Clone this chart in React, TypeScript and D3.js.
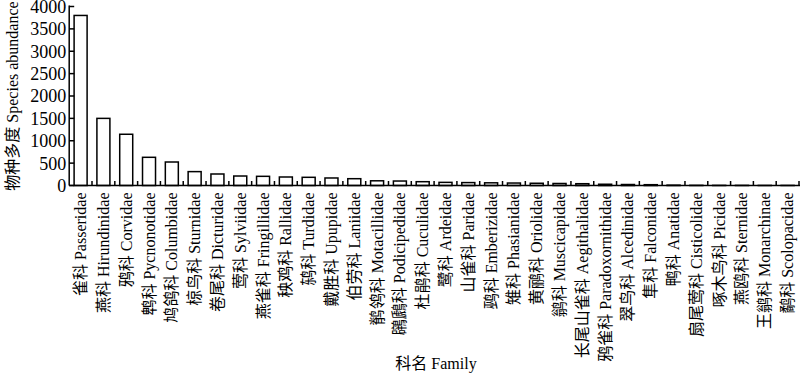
import React from "react";
import * as d3 from "d3";

const categories = [
  "雀科 Passeridae", "燕科 Hirundinidae", "鸦科 Corvidae", "鹎科 Pycnonotidae",
  "鸠鸽科 Columbidae", "椋鸟科 Sturnidae", "卷尾科 Dicturidae", "莺科 Sylviidae",
  "燕雀科 Fringillidae", "秧鸡科 Rallidae", "鸫科 Turdidae", "戴胜科 Upupidae",
  "伯劳科 Laniidae", "鹡鸰科 Motacillidae", "鸊鷉科 Podicipedidae", "杜鹃科 Cuculidae",
  "鹭科 Ardeidae", "山雀科 Paridae", "鹀科 Emberizidae", "雉科 Phasianidae",
  "黄鹂科 Oriolidae", "鹟科 Muscicapidae", "长尾山雀科 Aegithalidae", "鸦雀科 Paradoxornithidae",
  "翠鸟科 Alcedinidae", "隼科 Falconidae", "鸭科 Anatidae", "扇尾莺科 Cisticolidae",
  "啄木鸟科 Picidae", "燕鸥科 Sternidae", "王鹟科 Monarchinae", "鹬科 Scolopacidae",
];
const values = [
  3800, 1500, 1145, 630, 525, 310, 257, 212, 205, 190, 183, 168, 152, 105, 100, 85,
  70, 65, 60, 55, 50, 45, 40, 28, 22, 18, 8, 4, 3, 3, 2, 2,
];
const yTicks = [0, 500, 1000, 1500, 2000, 2500, 3000, 3500, 4000];

const W = 800;
const H = 379;
const left = 69.2;
const right = 799;
const top = 6.5;
const bottom = 185.5;
const FONT = '"Liberation Serif", "Noto Sans CJK SC", serif';

export default function App() {
  const x = d3.scaleBand<string>().domain(categories).range([left, right]).paddingInner(0.43).paddingOuter(0.215);
  const band = d3.scaleBand<string>().domain(categories).range([left, right]);
  const y = d3.scaleLinear().domain([0, 4000]).range([bottom, top]);

  return (
    <svg width={W} height={H} style={{ position: "absolute", left: 0, top: 0, background: "#fff", fontFamily: FONT }}>
      <rect x={0} y={0} width={W} height={H} fill="#fff" />
      {categories.map((c, i) => (
        <rect
          key={c}
          x={x(c)}
          y={y(values[i])}
          width={x.bandwidth()}
          height={bottom - y(values[i])}
          fill="#fff"
          stroke="#000"
          strokeWidth={1.5}
        />
      ))}
      {/* y axis */}
      <line x1={left} x2={left} y1={top - 1} y2={bottom} stroke="#000" strokeWidth={1.5} />
      {yTicks.map((t) => (
        <g key={t}>
          <line x1={left} x2={left + 5} y1={y(t)} y2={y(t)} stroke="#000" strokeWidth={1.5} />
          <text x={left - 3} y={y(t)} dy="0.36em" textAnchor="end" fontSize={18} fill="#000">
            {t}
          </text>
        </g>
      ))}
      {/* x axis */}
      <line x1={left} x2={right + 1} y1={bottom} y2={bottom} stroke="#000" strokeWidth={1.5} />
      {categories.map((c) => (
        <line
          key={"t" + c}
          x1={(band(c) as number) + band.bandwidth()}
          x2={(band(c) as number) + band.bandwidth()}
          y1={bottom}
          y2={bottom - 4.5}
          stroke="#000"
          strokeWidth={1.5}
        />
      ))}
      {categories.map((c) => {
        const cx = (band(c) as number) + band.bandwidth() / 2;
        return (
          <text
            key={"l" + c}
            transform={`translate(${cx},${bottom + 7}) rotate(-90)`}
            textAnchor="end"
            dominantBaseline="central"
            fontSize={16}
            fill="#000"
          >
            {c}
          </text>
        );
      })}
      <text
        transform={`translate(12,${(top + bottom) / 2}) rotate(-90)`}
        textAnchor="middle"
        dominantBaseline="central"
        fontSize={16}
        fill="#000"
      >
        物种多度 Species abundance
      </text>
      <text x={436} y={369} textAnchor="middle" fontSize={16} fill="#000">
        科名 Family
      </text>
    </svg>
  );
}
